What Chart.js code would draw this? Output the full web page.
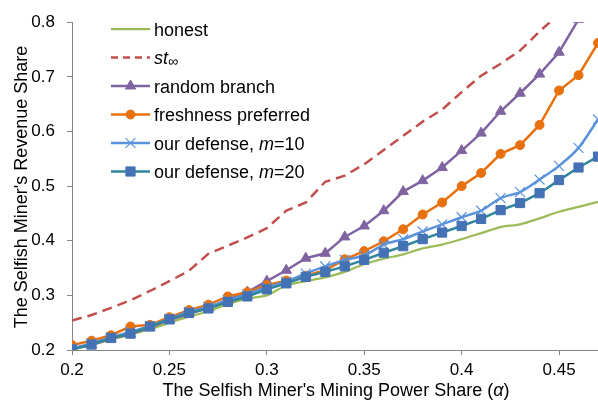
<!DOCTYPE html>
<html>
<head>
<meta charset="utf-8">
<script src="https://cdn.jsdelivr.net/npm/chart.js@4"></script>
<style>
body { margin: 0; background: #fff; }
</style>
</head>
<body>
<canvas id="myChart" width="598" height="403"></canvas>
<script>
var alpha = [0.20, 0.21, 0.22, 0.23, 0.24, 0.25, 0.26, 0.27, 0.28, 0.29, 0.30, 0.31, 0.32, 0.33,
             0.34, 0.35, 0.36, 0.37, 0.38, 0.39, 0.40, 0.41, 0.42, 0.43, 0.44, 0.45, 0.46, 0.47];
var honest       = [0.201, 0.209, 0.219, 0.228, 0.238, 0.250, 0.261, 0.271, 0.284, 0.294, 0.300, 0.318, 0.326, 0.333,
                    0.343, 0.357, 0.367, 0.375, 0.386, 0.393, 0.403, 0.414, 0.425, 0.430, 0.441, 0.453, 0.462, 0.471];
var stInf        = [0.254, 0.264, 0.277, 0.291, 0.308, 0.326, 0.345, 0.376, 0.391, 0.406, 0.423, 0.455, 0.470, 0.508,
                    0.519, 0.540, 0.566, 0.592, 0.618, 0.640, 0.672, 0.702, 0.724, 0.748, 0.783, 0.815, 0.845, 0.875];
var randomBranch = [0.203, 0.209, 0.221, 0.229, 0.241, 0.255, 0.266, 0.277, 0.292, 0.306, 0.326, 0.346, 0.368, 0.377,
                    0.407, 0.427, 0.455, 0.490, 0.510, 0.534, 0.565, 0.597, 0.637, 0.670, 0.705, 0.745, 0.805, 0.880];
var freshness    = [0.209, 0.217, 0.227, 0.243, 0.246, 0.260, 0.273, 0.283, 0.298, 0.306, 0.319, 0.327, 0.336, 0.346,
                    0.366, 0.381, 0.399, 0.421, 0.448, 0.470, 0.500, 0.524, 0.559, 0.575, 0.612, 0.675, 0.703, 0.762];
var defense10    = [0.203, 0.212, 0.223, 0.233, 0.244, 0.257, 0.270, 0.279, 0.291, 0.302, 0.315, 0.325, 0.340, 0.353,
                    0.365, 0.373, 0.393, 0.403, 0.417, 0.430, 0.443, 0.455, 0.478, 0.489, 0.512, 0.537, 0.570, 0.622];
var defense20    = [0.201, 0.210, 0.222, 0.230, 0.243, 0.256, 0.268, 0.276, 0.288, 0.298, 0.311, 0.322, 0.334, 0.343,
                    0.353, 0.365, 0.378, 0.390, 0.403, 0.415, 0.427, 0.440, 0.456, 0.469, 0.487, 0.511, 0.534, 0.554];
var xTicks = [0.2, 0.25, 0.3, 0.35, 0.4, 0.45];
var yTicks = [0.2, 0.3, 0.4, 0.5, 0.6, 0.7, 0.8];
// legend text: *..* = italic, _.._ = subscript
var legendLabels = ['honest', '*st*_∞_', 'random branch', 'freshness preferred', 'our defense, *m*=10', 'our defense, *m*=20'];
var xTitle = "The Selfish Miner's Mining Power Share (*α*)";
var yTitle = "The Selfish Miner's Revenue Share";

var FONT = '"Liberation Sans", Arial, sans-serif';
var axisColor = '#868686';

function series(vals) {
    return vals.map(function (v, i) { return {x: alpha[i], y: v}; });
}

// draws text with italic / subscript parts
function drawRich(ctx, str, x, y, size, align) {
    var parts = str.split(/(\*[^*]+\*|_[^_]+_)/).filter(function (p) { return p.length; });
    var segs = parts.map(function (p) {
        if (p[0] === '*') return {t: p.slice(1, -1), font: 'italic ' + size + 'px ' + FONT, dy: 0};
        if (p[0] === '_') return {t: p.slice(1, -1), font: Math.round(size * 0.75) + 'px ' + FONT, dy: 2};
        return {t: p, font: size + 'px ' + FONT, dy: 0};
    });
    var total = 0;
    segs.forEach(function (s) { ctx.font = s.font; s.w = ctx.measureText(s.t).width; total += s.w; });
    var cx = align === 'center' ? x - total / 2 : x;
    ctx.textAlign = 'left';
    ctx.textBaseline = 'alphabetic';
    segs.forEach(function (s) { ctx.font = s.font; ctx.fillText(s.t, cx, y + s.dy); cx += s.w; });
}

var extras = {
    id: 'extras',
    afterDraw: function (chart) {
        var ctx = chart.ctx;
        ctx.save();
        ctx.fillStyle = '#000';
        // axis titles
        drawRich(ctx, xTitle, 336, 396, 18, 'center');
        ctx.save();
        ctx.translate(27, 187);
        ctx.rotate(-Math.PI / 2);
        drawRich(ctx, yTitle, 0, 0, 18, 'center');
        ctx.restore();
        // legend
        var rowY = 29;
        chart.data.datasets.forEach(function (ds, i) {
            var y = rowY + i * 28.5;
            ctx.save();
            ctx.strokeStyle = ds.borderColor;
            ctx.lineWidth = ds.borderWidth;
            ctx.setLineDash(ds.borderDash ? [7, 5] : []);
            ctx.beginPath();
            ctx.moveTo(111, y);
            ctx.lineTo(150, y);
            ctx.stroke();
            ctx.setLineDash([]);
            if (ds.pointRadius > 0) {
                ctx.fillStyle = ds.pointBackgroundColor || ds.borderColor;
                ctx.strokeStyle = ds.pointBorderColor || ds.borderColor;
                ctx.lineWidth = ds.pointBorderWidth || 1;
                Chart.helpers.drawPoint(ctx, {pointStyle: ds.pointStyle, radius: ds.pointRadius, borderWidth: ds.pointBorderWidth || 1, rotation: 0}, 130.5, y);
            }
            ctx.restore();
            ctx.fillStyle = '#000';
            drawRich(ctx, legendLabels[i], 154, y + 6.5, 18, 'left');
        });
        ctx.restore();
    }
};

var ctx = document.getElementById('myChart').getContext('2d');
var myChart = new Chart(ctx, {
    type: 'line',
    data: {
        datasets: [
            {label: 'honest', data: series(honest), borderColor: '#9BBB59', borderWidth: 2.25,
             pointRadius: 0, tension: 0.3, order: 5},
            {label: 'st∞', data: series(stInf), borderColor: '#C0504D', borderWidth: 2.5, borderDash: [10, 6],
             pointRadius: 0, order: 4},
            {label: 'random branch', data: series(randomBranch), borderColor: '#8064A2', borderWidth: 2.5,
             pointStyle: 'triangle', pointRadius: 6, pointBackgroundColor: '#8064A2', pointBorderColor: '#8064A2',
             pointBorderWidth: 1, order: 3},
            {label: 'freshness preferred', data: series(freshness), borderColor: '#E8710F', borderWidth: 2.5,
             pointStyle: 'circle', pointRadius: 4.5, pointBackgroundColor: '#E8710F', pointBorderColor: '#E8710F',
             pointBorderWidth: 1, order: 2},
            {label: 'our defense, m=10', data: series(defense10), borderColor: '#5A93DB', borderWidth: 2.5,
             pointStyle: 'crossRot', pointRadius: 7, pointBackgroundColor: '#5A93DB', pointBorderColor: '#5A93DB',
             pointBorderWidth: 1.2, tension: 0.3, order: 1},
            {label: 'our defense, m=20', data: series(defense20), borderColor: '#31859C', borderWidth: 2.5,
             pointStyle: 'rect', pointRadius: 6.5, pointBackgroundColor: '#4472B4', pointBorderColor: '#4472B4',
             pointBorderWidth: 1, order: 0}
        ]
    },
    options: {
        responsive: false,
        animation: false,
        devicePixelRatio: 1,
        layout: {autoPadding: false, padding: {top: 14, right: 0, left: 0, bottom: 0}},
        plugins: {legend: {display: false}, tooltip: {enabled: false}},
        scales: {
            x: {
                type: 'linear', min: 0.2, max: 0.47,
                afterBuildTicks: function (s) { s.ticks = xTicks.map(function (v) { return {value: v}; }); },
                afterFit: function (s) { s.height = 53; s.paddingLeft = 0; s.paddingRight = 0; },
                ticks: {color: '#000', font: {size: 17, family: FONT}, padding: 5, maxRotation: 0, autoSkip: false,
                        callback: function (v) { return String(Math.round(v * 100) / 100); }},
                grid: {drawOnChartArea: false, tickLength: 5, color: axisColor},
                border: {display: true, color: axisColor, width: 1}
            },
            y: {
                min: 0.2, max: 0.8,
                afterBuildTicks: function (s) { s.ticks = yTicks.map(function (v) { return {value: v}; }); },
                afterFit: function (s) { s.width = 72; },
                ticks: {color: '#000', font: {size: 17, family: FONT}, padding: 12,
                        callback: function (v) { return String(Math.round(v * 100) / 100); }},
                grid: {drawOnChartArea: false, tickLength: 5, color: axisColor},
                border: {display: true, color: axisColor, width: 1}
            }
        }
    },
    plugins: [extras]
});
</script>
</body>
</html>
